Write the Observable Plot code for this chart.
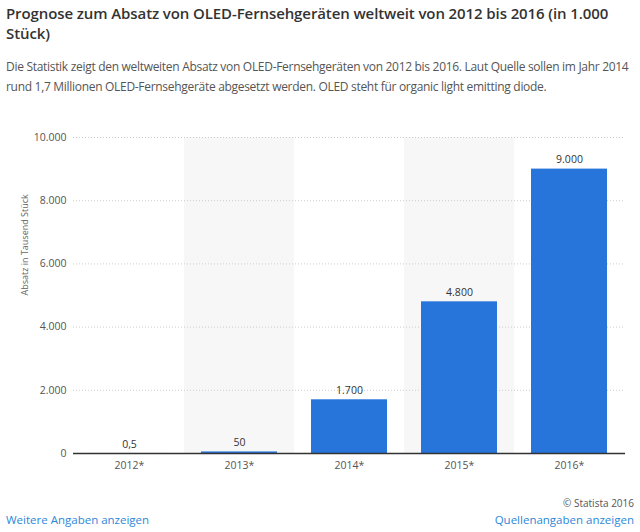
<!DOCTYPE html>
<html><head><meta charset="utf-8">
<script src="https://cdn.jsdelivr.net/npm/d3@7"></script>
<script src="https://cdn.jsdelivr.net/npm/@observablehq/plot@0.6"></script>
<style>
body{margin:0;background:#fff;font-family:"Open Sans",sans-serif;width:640px;height:532px;overflow:hidden;position:relative}
#title{position:absolute;left:6px;top:3px;width:625px;font-size:15px;font-weight:600;line-height:20px;color:#333;letter-spacing:-0.1px}
#sub{position:absolute;left:6px;top:57px;width:630px;font-size:12px;line-height:20px;color:#555;letter-spacing:-0.3px}
#chart{position:absolute;left:0;top:120px}
#copy{position:absolute;right:6px;top:496px;font-size:10px;color:#555}
#l1{position:absolute;left:6px;top:512px;font-size:11.5px;color:#2d87d8}
#l2{position:absolute;right:6px;top:512px;font-size:11.5px;color:#2d87d8}
</style></head><body>
<div id="title">Prognose zum Absatz von OLED-Fernsehgeräten weltweit von 2012 bis 2016 (in 1.000 Stück)</div>
<div id="sub">Die Statistik zeigt den weltweiten Absatz von OLED-Fernsehgeräten von 2012 bis 2016. Laut Quelle sollen im Jahr 2014 rund 1,7 Millionen OLED-Fernsehgeräte abgesetzt werden. OLED steht für organic light emitting diode.</div>
<div id="chart"></div>
<div id="copy">© Statista 2016</div>
<div id="l1">Weitere Angaben anzeigen</div>
<div id="l2">Quellenangaben anzeigen</div>
<script>
const years = ["2012*","2013*","2014*","2015*","2016*"];
const values = [0.5, 50, 1700, 4800, 9000];
const shaded = ["2013*","2015*"];
const yTicks = [0, 2000, 4000, 6000, 8000, 10000];
const yMax = 10000;

const de = d3.formatLocale({decimal:",", thousands:".", grouping:[3], currency:["","€"]});
const fmtTick = de.format(",d");
const fmtVal = v => v < 1 ? de.format(",.1f")(v) : de.format(",d")(v);

const data = years.map((y,i)=>({year:y, value:values[i]}));
const bands = shaded.map(y=>({year:y, value:yMax}));

const chart = Plot.plot({
  width: 640, height: 360,
  marginTop: 17, marginBottom: 27, marginLeft: 73, marginRight: 15,
  style: {fontFamily: "'Open Sans', sans-serif", fontSize: "10.5px", color: "#555"},
  x: {domain: years, paddingInner: 0.31, paddingOuter: 0.155, label: null, tickSize: 0, tickPadding: 8},
  y: {domain: [0, yMax], ticks: yTicks, tickFormat: fmtTick, label: null, tickSize: 0, tickPadding: 7},
  marks: [
    Plot.barY(bands, {x:"year", y:"value", fill:"#f7f7f7", insetLeft:-17.1, insetRight:-17.1}),
    Plot.gridY(yTicks.filter(d=>d>0), {stroke:"#ccc", strokeOpacity:1, strokeDasharray:"1,2"}),
    Plot.barY(data, {x:"year", y:"value", fill:"#2775db"}),
    Plot.ruleY([0], {stroke:"#333", strokeWidth:1.5}),
    Plot.text(data, {x:"year", y:"value", text:d=>fmtVal(d.value), dy:-9, fill:"#333", fontSize:10.5}),
    Plot.text(["Absatz in Tausend Stück"], {frameAnchor:"left", dx:-48, rotate:-90, fill:"#666", fontSize:9})
  ]
});
document.getElementById("chart").appendChild(chart);
</script>
</body></html>
